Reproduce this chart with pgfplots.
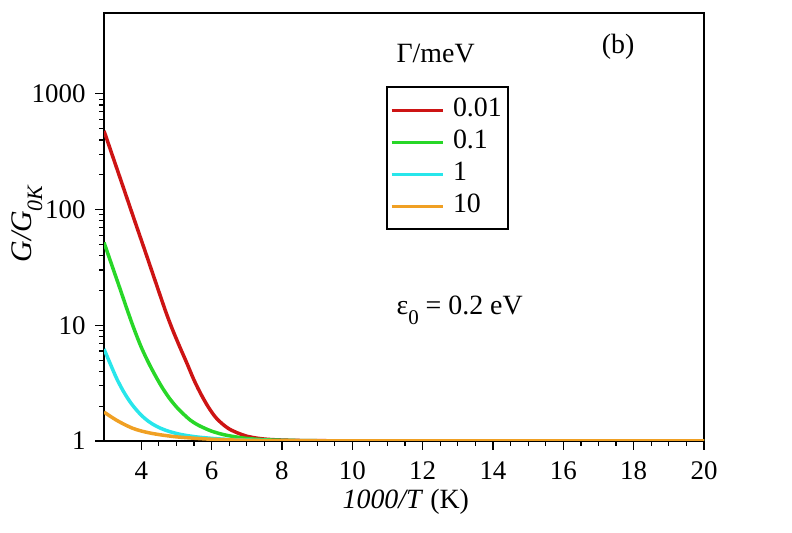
\documentclass[border=0pt]{standalone}
\usepackage{fontspec}
\setmainfont{Liberation Serif}
\usepackage{pgfplots}
\pgfplotsset{compat=1.18}
\definecolor{cred}{RGB}{205,20,20}
\definecolor{cgreen}{RGB}{40,215,40}
\definecolor{ccyan}{RGB}{40,230,235}
\definecolor{corange}{RGB}{240,160,35}
\begin{document}
\begin{tikzpicture}
\useasboundingbox (0,0) rectangle (792bp,533bp);
\begin{axis}[
  at={(104bp,92bp)}, anchor=south west,
  scale only axis, width=600bp, height=428bp,
  xmin=2.94, xmax=20, ymin=1, ymax=5000,
  ymode=log,
  axis line style={line width=2.5bp},
  every tick/.style={black, line width=1.2bp},
  tick align=outside,
  xtick pos=bottom, ytick pos=left,
  xtick={4,6,...,20},
  minor x tick num=3,
  ytick={1,10,100,1000},
  yticklabels={1,10,100,1000},
  major tick length=9bp, minor tick length=5bp,
  /pgf/number format/assume math mode=true,
  tick label style={font=\fontsize{27}{30}\selectfont},
  xticklabel style={yshift=-8bp},
  yticklabel style={xshift=-6bp},
  label style={font=\fontsize{28}{32}\selectfont},
  xlabel={\textit{1000/T} (K)},
  xlabel style={at={(axis description cs:0.503,-0.158)}, anchor=base},
  ylabel={\textit{G/G}\raisebox{-0.35em}{\fontsize{22}{22}\selectfont\itshape 0K}},
  ylabel style={at={(axis description cs:-0.128,0.507)}, anchor=center, rotate=0, font=\fontsize{30}{32}\selectfont},
  legend style={at={(axis description cs:0.47,0.8294)}, anchor=north west,
    draw=black, line width=2bp, inner xsep=3bp, inner ysep=7bp,
    column sep=6bp, row sep=0pt,
    font=\fontsize{28}{32}\selectfont,
    nodes={inner xsep=3bp, inner ysep=3.5bp, text height=19bp, text depth=6bp}},
  legend cell align=left,
  legend image code/.code={\draw[#1, line width=3bp] (0bp,0bp) -- (51bp,0bp);},
]
\addplot[cred, line width=3.5bp, smooth, tension=0.5] coordinates {
(2.94,479) (3.2,281) (3.5,152) (3.8,82) (4.1,44.5) (4.4,24) (4.7,13)
(4.9,9.0) (5.1,6.45) (5.3,4.68) (5.5,3.36) (5.7,2.53) (5.9,1.98)
(6.1,1.62) (6.3,1.41) (6.5,1.27) (6.75,1.17) (7.0,1.10) (7.3,1.057)
(7.6,1.033) (8.0,1.019) (8.5,1.01) (9.5,1.004) (11,1.001) (20,1.0)};
\addlegendentry{0.01}
\addplot[cgreen, line width=3.5bp, smooth, tension=0.5] coordinates {
(2.94,52) (3.2,30.7) (3.4,20.5) (3.6,13.6) (3.8,9.2) (4.0,6.46) (4.2,4.79)
(4.4,3.67) (4.6,2.88) (4.8,2.34) (5.0,1.97) (5.2,1.71) (5.4,1.51)
(5.6,1.38) (5.8,1.29) (6.0,1.216) (6.3,1.143) (6.6,1.096) (7.0,1.052)
(7.5,1.026) (8.0,1.014) (9,1.005) (10,1.0) (20,1.0)};
\addlegendentry{0.1}
\addplot[ccyan, line width=3.5bp, smooth, tension=0.5] coordinates {
(2.94,6.24) (3.1,4.79) (3.3,3.47) (3.5,2.66) (3.7,2.14) (3.9,1.80)
(4.1,1.567) (4.3,1.413) (4.55,1.288) (4.8,1.208) (5.1,1.143) (5.5,1.091)
(6.0,1.054) (6.5,1.03) (7.2,1.014) (8,1.007) (9,1.002) (20,1.0)};
\addlegendentry{1}
\addplot[corange, line width=3.5bp, smooth, tension=0.5] coordinates {
(2.94,1.78) (3.1,1.65) (3.3,1.51) (3.5,1.40) (3.75,1.29) (4.0,1.22)
(4.3,1.164) (4.6,1.125) (5.0,1.086) (5.5,1.057) (6.0,1.035) (6.7,1.019)
(7.5,1.009) (9,1.002) (20,1.0)};
\addlegendentry{10}
\node[anchor=base west, font=\fontsize{28}{32}\selectfont]
  at (axis description cs:0.4817,0.8832) {Γ/meV};
\node[anchor=center, font=\fontsize{28}{32}\selectfont]
  at (axis description cs:0.8567,0.9206) {(b)};
\node[anchor=base west, font=\fontsize{28}{32}\selectfont]
  at (axis description cs:0.4817,0.2944)
  {ε\raisebox{-0.35em}{\fontsize{21}{21}\selectfont 0} = 0.2 eV};
\end{axis}
\end{tikzpicture}
\end{document}
